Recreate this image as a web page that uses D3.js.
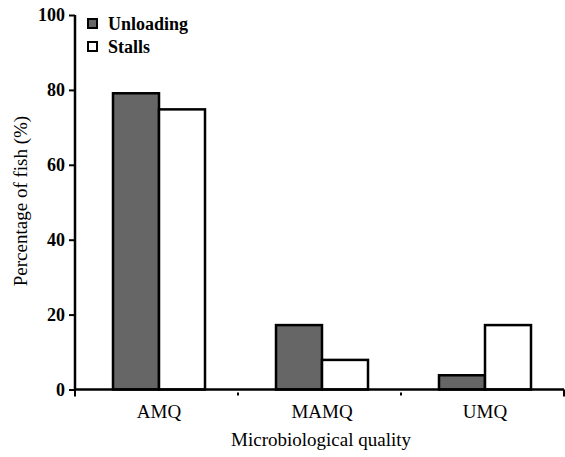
<!DOCTYPE html>
<html><head><meta charset="utf-8">
<script src="https://cdn.jsdelivr.net/npm/d3@7"></script>
<style>body{margin:0;background:#fff}svg{display:block}</style>
</head><body>
<svg id="c" width="565" height="457"></svg>
<script>
const categories = ["AMQ", "MAMQ", "UMQ"];
const seriesNames = ["Unloading", "Stalls"];
const unloading = [79.1, 17.2, 3.8];
const stalls = [74.8, 7.9, 17.2];
const yTicks = [0, 20, 40, 60, 80, 100];
const colors = ["#666666", "#ffffff"];

const svg = d3.select("#c");
const L = 75, R = 564, T = 15, B = 389.5;
const x = d3.scaleBand().domain(categories).range([L, R]).paddingInner(0).paddingOuter(0);
const y = d3.scaleLinear().domain([0, 100]).range([B, T]);
const PW = 92;
const xs = d3.scaleBand().domain(seriesNames).range([0, PW]);

const data = categories.map((c, i) => ({cat: c, vals: [unloading[i], stalls[i]]}));
const g = svg.append("g");
data.forEach(d => {
  d.vals.forEach((v, j) => {
    const bx = x(d.cat) + (x.bandwidth() - PW) / 2 + 2.5 + xs(seriesNames[j]);
    g.append("rect")
      .attr("x", bx).attr("y", y(v))
      .attr("width", xs.bandwidth()).attr("height", y(0) - y(v))
      .attr("fill", colors[j]).attr("stroke", "#000").attr("stroke-width", 2.5);
  });
});

// y axis
const ya = svg.append("g").attr("transform", `translate(${L},0)`)
  .call(d3.axisLeft(y).tickValues(yTicks).tickSize(6).tickPadding(4));
ya.select(".domain").attr("stroke-width", 2.5).attr("d", `M0,${T}V${B}`);
ya.selectAll(".tick line").attr("stroke-width", 2);
ya.selectAll("text").attr("font-family", "Liberation Serif").attr("font-weight", "bold")
  .attr("font-size", 18).attr("fill", "#000")
  .attr("x", -10).attr("text-anchor", "end");

// x axis
const xa = svg.append("g").attr("transform", `translate(0,${B})`);
xa.append("path").attr("d", `M${L},0H${R}`).attr("stroke", "#000").attr("stroke-width", 2.5).attr("fill", "none");
const bounds = [L].concat(categories.map(c => x(c) + x.bandwidth()));
xa.selectAll("line.tk").data(bounds).enter().append("line")
  .attr("x1", d => d).attr("x2", d => d)
  .attr("y1", (d, i) => (i === 0 || i === bounds.length - 1) ? 0 : 3)
  .attr("y2", (d, i) => (i === 0 || i === bounds.length - 1) ? 7 : 6)
  .attr("stroke", "#000").attr("stroke-width", 2);
xa.selectAll("text.lb").data(categories).enter().append("text")
  .attr("x", d => x(d) + x.bandwidth() / 2 + 2.5).attr("y", 28)
  .attr("text-anchor", "middle").attr("font-family", "Liberation Serif")
  .attr("font-size", 19).text(d => d);

// axis titles
svg.append("text").attr("x", 321).attr("y", 446).attr("text-anchor", "middle")
  .attr("font-family", "Liberation Serif").attr("font-size", 19).text("Microbiological quality");
svg.append("text").attr("transform", "translate(27,201) rotate(-90)").attr("text-anchor", "middle")
  .attr("font-family", "Liberation Serif").attr("font-size", 19).text("Percentage of fish (%)");

// legend
const lg = svg.append("g").attr("transform", "translate(87,18)");
seriesNames.forEach((s, i) => {
  lg.append("rect").attr("x", 1).attr("y", i * 23 + 1).attr("width", 9).attr("height", 9)
    .attr("fill", colors[i]).attr("stroke", "#000").attr("stroke-width", 2);
  lg.append("text").attr("x", 21).attr("y", i * 23 + 12)
    .attr("font-family", "Liberation Serif").attr("font-weight", "bold").attr("font-size", 18)
    .text(s);
});
</script>
</body></html>
